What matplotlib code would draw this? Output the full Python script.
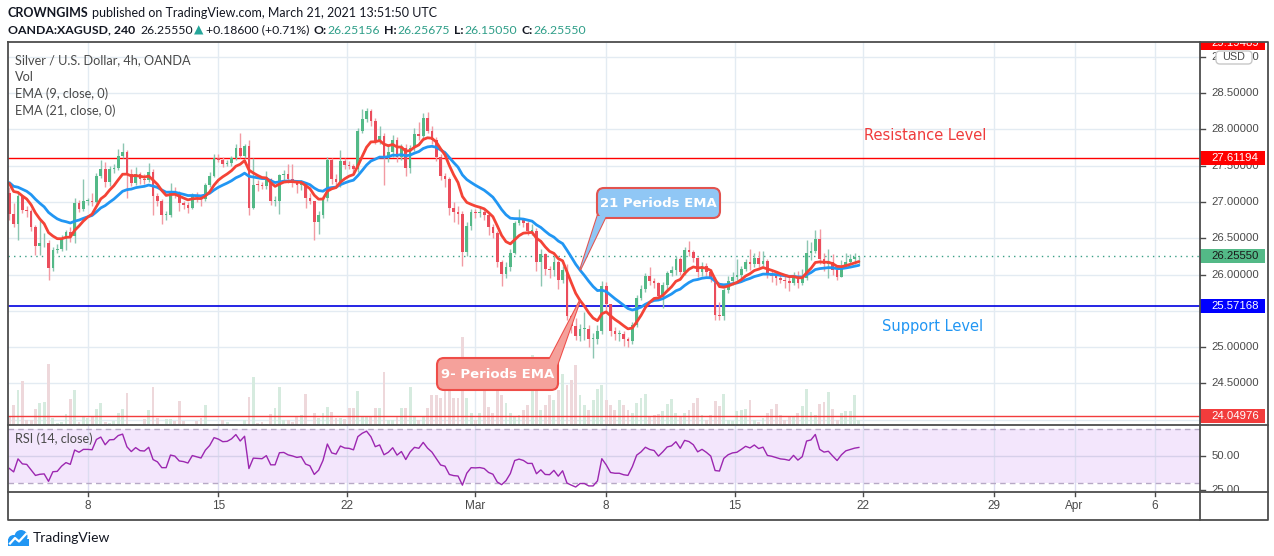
import numpy as np
import pandas as pd
import matplotlib
matplotlib.use("Agg")
import matplotlib.pyplot as plt
import matplotlib.transforms as mtransforms
from matplotlib.patches import FancyBboxPatch, Polygon, Rectangle, Circle

# ---- data (XAGUSD 4h) ----
OPEN0 = 27.12
close = [
    26.84, 26.70, 27.08, 26.89, 26.87, 26.65, 26.40, 26.43, 26.44, 26.09,
    26.34, 26.35, 26.49, 26.59, 26.53, 26.98, 26.91, 27.01, 27.01, 27.00,
    27.36, 27.46, 27.27, 27.46, 27.47, 27.63, 27.69, 27.39, 27.26, 27.39,
    27.31, 27.30, 27.41, 27.08, 27.01, 26.82, 26.82, 27.15, 27.12, 26.98,
    26.96, 26.92, 27.10, 27.07, 27.04, 27.23, 27.36, 27.61, 27.58, 27.53,
    27.54, 27.61, 27.74, 27.63, 27.77, 26.92, 27.24, 27.23, 27.22, 27.31,
    27.01, 27.01, 27.37, 27.38, 27.31, 27.28, 27.24, 27.26, 27.06, 27.01,
    26.73, 26.82, 27.05, 27.58, 27.31, 27.27, 27.57, 27.51, 27.50, 27.46,
    27.98, 28.15, 28.26, 28.12, 27.84, 27.91, 27.60, 27.69, 27.86, 27.62,
    27.75, 27.47, 27.75, 27.94, 27.91, 28.16, 27.98, 27.85, 27.62, 27.36,
    27.31, 26.92, 26.86, 26.84, 26.31, 26.67, 26.86, 26.85, 26.86, 26.82,
    26.65, 26.57, 26.17, 26.01, 26.11, 26.30, 26.71, 26.76, 26.71, 26.60,
    26.60, 26.18, 26.29, 26.08, 26.07, 26.18, 25.93, 26.07, 25.43, 25.29,
    25.16, 25.25, 25.25, 25.11, 25.11, 25.22, 25.84, 25.59, 25.22, 25.18,
    25.18, 25.11, 25.08, 25.31, 25.68, 25.80, 25.98, 25.91, 25.88, 25.71,
    25.85, 26.02, 26.06, 26.21, 26.04, 26.34, 26.31, 26.23, 26.04, 26.12,
    26.04, 25.94, 25.45, 25.43, 25.79, 25.91, 25.97, 25.99, 26.08, 26.18,
    26.14, 26.23, 26.15, 26.19, 26.00, 25.98, 25.95, 25.92, 25.91, 25.89,
    25.98, 25.89, 25.95, 26.30, 26.33, 26.49, 26.21, 26.15, 26.17, 26.07,
    25.97, 26.09, 26.18, 26.21, 26.24, 26.2555,
]
high = [
    27.21, 26.98, 27.12, 27.10, 26.95, 26.90, 26.68, 26.76, 26.57, 26.47,
    26.38, 26.42, 26.55, 26.62, 26.66, 27.05, 27.03, 27.31, 27.06, 27.12,
    27.40, 27.58, 27.55, 27.50, 27.52, 27.73, 27.81, 27.72, 27.45, 27.48,
    27.42, 27.38, 27.54, 27.45, 27.12, 27.04, 26.88, 27.26, 27.20, 27.15,
    27.02, 27.00, 27.13, 27.14, 27.10, 27.26, 27.42, 27.66, 27.66, 27.62,
    27.58, 27.64, 27.80, 27.95, 27.80, 27.85, 27.60, 27.30, 27.28, 27.43,
    27.33, 27.08, 27.38, 27.44, 27.53, 27.52, 27.30, 27.30, 27.28, 27.12,
    27.02, 26.88, 27.08, 27.62, 27.60, 27.38, 27.72, 27.60, 27.56, 27.52,
    28.02, 28.28, 28.30, 28.28, 28.16, 28.05, 27.95, 27.80, 27.92, 27.90,
    27.80, 27.80, 27.78, 28.02, 28.10, 28.22, 28.24, 28.05, 27.90, 27.66,
    27.40, 27.35, 27.00, 26.95, 26.88, 26.72, 26.90, 26.90, 26.95, 26.92,
    26.85, 26.70, 26.60, 26.20, 26.18, 26.35, 26.74, 26.90, 26.78, 26.74,
    26.70, 26.64, 26.35, 26.30, 26.12, 26.25, 26.20, 26.12, 26.15, 25.45,
    25.40, 25.32, 25.48, 25.30, 25.20, 25.30, 25.91, 25.90, 25.60, 25.28,
    25.24, 25.22, 25.14, 25.35, 25.72, 25.85, 26.02, 26.11, 25.95, 25.90,
    25.90, 26.05, 26.12, 26.25, 26.24, 26.38, 26.46, 26.34, 26.24, 26.18,
    26.16, 26.08, 25.96, 25.62, 25.82, 25.98, 26.04, 26.22, 26.12, 26.22,
    26.35, 26.30, 26.32, 26.33, 26.22, 26.05, 26.05, 26.00, 25.98, 26.00,
    26.03, 26.05, 26.08, 26.48, 26.45, 26.62, 26.63, 26.30, 26.35, 26.28,
    26.12, 26.20, 26.30, 26.28, 26.30, 26.26,
]
low = [
    26.75, 26.66, 26.48, 26.85, 26.80, 26.60, 26.27, 26.27, 26.38, 25.92,
    26.05, 26.30, 26.33, 26.34, 26.45, 26.43, 26.86, 26.88, 26.96, 26.95,
    26.98, 27.33, 27.20, 27.22, 27.40, 27.44, 27.60, 27.06, 27.22, 27.24,
    27.25, 27.25, 27.27, 26.82, 26.95, 26.69, 26.75, 26.80, 27.06, 26.88,
    26.90, 26.85, 26.90, 27.00, 26.95, 27.02, 27.20, 27.34, 27.55, 27.48,
    27.50, 27.50, 27.58, 27.60, 27.60, 26.82, 26.90, 27.15, 27.18, 27.18,
    26.96, 26.95, 26.84, 27.30, 27.26, 27.20, 27.12, 27.16, 26.92, 26.97,
    26.47, 26.56, 26.78, 27.02, 27.25, 27.20, 27.20, 27.46, 27.45, 27.40,
    27.42, 27.95, 28.10, 28.05, 27.80, 27.80, 27.24, 27.55, 27.62, 27.55,
    27.58, 27.36, 27.40, 27.70, 27.85, 27.86, 27.95, 27.80, 27.56, 27.30,
    27.20, 26.82, 26.72, 26.70, 26.12, 26.26, 26.62, 26.78, 26.80, 26.75,
    26.55, 26.50, 26.10, 25.84, 25.95, 26.05, 26.28, 26.68, 26.65, 26.55,
    26.55, 26.05, 25.84, 26.00, 25.95, 25.98, 25.80, 25.88, 25.38, 25.20,
    25.10, 25.08, 25.10, 25.00, 24.85, 25.05, 25.18, 25.50, 25.15, 25.10,
    25.08, 25.02, 25.00, 25.05, 25.28, 25.65, 25.76, 25.85, 25.82, 25.66,
    25.54, 25.80, 25.98, 26.00, 26.00, 26.00, 26.25, 26.18, 25.96, 25.98,
    25.98, 25.90, 25.38, 25.38, 25.38, 25.75, 25.85, 25.92, 25.95, 26.05,
    26.06, 26.10, 26.10, 26.12, 25.95, 25.90, 25.85, 25.88, 25.82, 25.78,
    25.85, 25.82, 25.85, 25.92, 26.20, 26.30, 26.15, 26.05, 25.95, 26.00,
    25.93, 25.98, 26.10, 26.15, 26.15, 26.15,
]
volume = [
    8, 20, 35, 44, 5, 5, 16, 22, 23, 61,
    7, 2, 3, 11, 26, 35, 3, 8, 7, 9,
    16, 22, 3, 2, 4, 12, 16, 32, 1, 1,
    1, 6, 15, 38, 7, 1, 6, 6, 4, 24,
    4, 1, 1, 4, 7, 20, 1, 1, 1, 5,
    3, 1, 1, 1, 5, 28, 48, 2, 3, 1,
    11, 17, 38, 5, 5, 3, 9, 10, 31, 1,
    12, 7, 12, 18, 13, 7, 7, 6, 17, 17,
    34, 8, 8, 8, 17, 17, 53, 5, 5, 8,
    17, 17, 38, 8, 5, 8, 17, 30, 30, 27,
    35, 35, 27, 27, 88, 27, 12, 5, 12, 53,
    18, 12, 40, 30, 22, 12, 8, 10, 15, 20,
    70, 35, 15, 20, 30, 25, 35, 51, 40, 45,
    60, 30, 20, 15, 25, 36, 40, 25, 20, 15,
    25, 20, 15, 12, 22, 27, 31, 9, 10, 11,
    14, 21, 26, 12, 9, 12, 15, 22, 27, 10,
    5, 10, 24, 19, 31, 5, 4, 14, 15, 16,
    25, 5, 3, 7, 12, 16, 21, 10, 5, 9,
    9, 12, 19, 36, 13, 10, 21, 23, 33, 16,
    5, 12, 14, 14, 30, 5,
]
EMA9_SEED, EMA21_SEED = 27.36, 27.31
RSI_GAIN_SEED, RSI_LOSS_SEED = 0.070, 0.080

RESISTANCE = 27.61194
SUPPORT = 25.57168
LOW_LEVEL = 24.04976
TOP_LEVEL = 29.19489
LAST = 26.25550

TICK_POS = [18, 48, 77.5, 107, 137, 166.5, 196, 226, 244.5, 263]
TICK_LABELS = ["8", "15", "22", "Mar", "8", "15", "22", "29", "Apr", "6"]
PRICE_TICKS = [24.0, 24.5, 25.0, 25.5, 26.0, 26.5, 27.0, 27.5, 28.0, 28.5, 29.0]
# labels that sit fully under a price tag in the reference are not printed
HIDDEN_LABELS = [24.0, 25.5]

# ---- derived series ----
c = np.array(close)
o = np.r_[OPEN0, c[:-1]]
hi = np.maximum(np.array(high), np.maximum(o, c))
lo = np.minimum(np.array(low), np.minimum(o, c))
idx = np.arange(len(c))
up = c >= o

ema9 = pd.Series(np.r_[EMA9_SEED, c]).ewm(span=9, adjust=False).mean().to_numpy()[1:]
ema21 = pd.Series(np.r_[EMA21_SEED, c]).ewm(span=21, adjust=False).mean().to_numpy()[1:]
delta = c - o
gain = pd.Series(np.r_[RSI_GAIN_SEED, np.clip(delta, 0, None)]).ewm(alpha=1 / 14, adjust=False).mean().to_numpy()[1:]
loss = pd.Series(np.r_[RSI_LOSS_SEED, np.clip(-delta, 0, None)]).ewm(alpha=1 / 14, adjust=False).mean().to_numpy()[1:]
rsi = 100 - 100 / (1 + gain / loss)

# ---- figure ----
W, H = 1274, 556
fig = plt.figure(figsize=(W / 100, H / 100), dpi=100)
fig.patch.set_facecolor("white")

UI_FONT = ["Lato", "DejaVu Sans"]
AX_FONT = ["Liberation Sans", "DejaVu Sans"]
AX_SIZE = 8.2
GRID = "#e3ebf2"
TXT = "#4a4a4a"
UP, DOWN = "#53b987", "#eb4d5c"
UP_WICK, DOWN_WICK = "#8cc6b2", "#f29aa3"

XLIM = (-0.3, 273.3)
PRICE_LIM = (23.928, 29.204)
RSI_LIM = (23.33, 72.96)


def px_axes(x0, y0, x1, y1, zorder=1):
    a = fig.add_axes([x0 / W, 1 - y1 / H, (x1 - x0) / W, (y1 - y0) / H], zorder=zorder)
    a.set_axis_off()
    return a


# price panel
ax = px_axes(8, 42, 1200, 425, zorder=2)
ax.set_xlim(*XLIM)
ax.set_ylim(*PRICE_LIM)
ax_bg = px_axes(8, 42, 1200, 425, zorder=1)
ax_bg.set_xlim(*XLIM)
ax_bg.set_ylim(0, 383)
price_y = mtransforms.blended_transform_factory(ax_bg.transAxes, ax.transData)
for p in PRICE_TICKS:
    ax_bg.plot([0, 1], [p, p], transform=price_y, color=GRID, lw=1, zorder=0)
for t in TICK_POS:
    ax_bg.axvline(t, color=GRID, lw=1, zorder=0)
ax_bg.bar(idx, volume, width=0.65, color=np.where(up, "#d6ebdf", "#eed8db"), zorder=1)

ax.vlines(idx, lo, hi, colors=np.where(up, UP_WICK, DOWN_WICK), lw=1, zorder=2)
ax.bar(idx, np.maximum(np.abs(c - o), 0.012), bottom=np.minimum(o, c), width=0.62,
       color=np.where(up, UP, DOWN), lw=0, zorder=3)
ax.plot(idx, ema21, color="#2196f3", lw=2, zorder=4, solid_capstyle="round")
ax.plot(idx, ema9, color="#f44336", lw=2, zorder=5, solid_capstyle="round")
ax.axhline(RESISTANCE, color="#ff0000", lw=1, zorder=1)
ax.axhline(SUPPORT, color="#0000e0", lw=1.2, zorder=1)
ax.axhline(LOW_LEVEL, color="#f23c3c", lw=1, zorder=1)
ax.axhline(LAST, color="#3a9f86", lw=1, ls=(0, (1, 3)), zorder=1)
ax.text(210.2, 27.91, "Resistance Level", color="#ef3b3b", fontsize=10.5,
        ha="center", va="center", family="DejaVu Sans")
ax.text(212, 25.29, "Support Level", color="#2196f3", fontsize=10.5,
        ha="center", va="center", family="DejaVu Sans")

legend = ["Silver / U.S. Dollar, 4h, OANDA", "Vol", "EMA (9, close, 0)", "EMA (21, close, 0)"]
for k, s in enumerate(legend):
    fig.text(15 / W, 1 - (60 + 17 * k) / H, s, color=TXT, fontsize=9.2, family=UI_FONT, va="center")

# RSI panel
ax_r = px_axes(8, 425, 1200, 492, zorder=1)
ax_r.set_xlim(*XLIM)
ax_r.set_ylim(*RSI_LIM)
ax_r.axhspan(30, 70, color="#f3e6fc", lw=0, zorder=0)
for t in TICK_POS:
    ax_r.axvline(t, color="#dcdcf0", lw=1, zorder=1)
ax_r.axhline(50, color="#d6d0ea", lw=1, zorder=1)
ax_r.axhline(70, color="#b7a9c6", lw=1, ls=(0, (4, 3)), zorder=1)
ax_r.axhline(30, color="#b7a9c6", lw=1, ls=(0, (4, 3)), zorder=1)
ax_r.plot(idx, rsi, color="#9c27b0", lw=1, zorder=3)
ax_r.text(0.006, 0.8, "RSI (14, close)", transform=ax_r.transAxes, color=TXT,
          fontsize=9.2, family=UI_FONT, va="center")

# price scale
ax_s = px_axes(1200, 42, 1268, 425, zorder=2)
ax_s.set_xlim(0, 1)
ax_s.set_ylim(*PRICE_LIM)
for p in PRICE_TICKS:
    ax_s.plot([0, 0.07], [p, p], color=TXT, lw=1)
    if p not in HIDDEN_LABELS:
        ax_s.text(0.17, p, f"{p:.5f}", color=TXT, fontsize=AX_SIZE, family=AX_FONT,
                  va="center", clip_on=True)
TAG_H = 7 / 72.6


def tag(p, label, fc, tc):
    ax_s.add_patch(Rectangle((0, p - TAG_H), 0.955, 2 * TAG_H, fc=fc, ec="none", zorder=3, clip_on=True))
    ax_s.text(0.17, p, label, color=tc, fontsize=AX_SIZE, family=AX_FONT, va="center",
              zorder=4, clip_on=True)


tag(TOP_LEVEL, f"{TOP_LEVEL:.5f}", "#ff0000", "white")
tag(RESISTANCE, f"{RESISTANCE:.5f}", "#ff0000", "white")
tag(LAST, f"{LAST:.5f}", "#53b987", "#1a1a1a")
tag(SUPPORT, f"{SUPPORT:.5f}", "#0000ff", "white")
tag(LOW_LEVEL, f"{LOW_LEVEL:.5f}", "#f23c3c", "white")

ax_rs = px_axes(1200, 425, 1268, 492, zorder=2)
ax_rs.set_xlim(0, 1)
ax_rs.set_ylim(*RSI_LIM)
for v in [50, 25]:
    ax_rs.plot([0, 0.07], [v, v], color=TXT, lw=1)
    ax_rs.text(0.17, v, f"{v:.2f}", color=TXT, fontsize=AX_SIZE, family=AX_FONT,
               va="center", clip_on=True)

# time axis
ax_t = px_axes(8, 492, 1200, 520, zorder=2)
ax_t.set_xlim(*XLIM)
ax_t.set_ylim(0, 1)
for t, s in zip(TICK_POS, TICK_LABELS):
    ax_t.plot([t, t], [1, 0.86], color=TXT, lw=1)
    ax_t.text(t, 0.5, s, color=TXT, fontsize=8.5, family=AX_FONT, ha="center", va="center")

# overlay in pixel coordinates: frame, callouts, logo
ov = fig.add_axes([0, 0, 1, 1], zorder=5)
ov.set_xlim(0, W)
ov.set_ylim(H, 0)
ov.set_axis_off()
ov.patch.set_alpha(0)
FRAME = "#4d4d4d"
ov.plot([8, 1268, 1268, 8, 8], [42, 42, 520, 520, 42], color=FRAME, lw=1.3)
ov.plot([1200, 1200], [42, 520], color=FRAME, lw=1.3)
ov.plot([8, 1268], [425, 425], color=FRAME, lw=1.3)
ov.plot([8, 1268], [492, 492], color=FRAME, lw=1.3)

ov.add_patch(FancyBboxPatch((1216, 51), 36, 13, boxstyle="round,pad=0,rounding_size=4",
                            fc="white", ec="#c8c8c8", lw=1))
ov.text(1234, 57.5, "USD", color=TXT, fontsize=7.8, family=AX_FONT, ha="center", va="center")


def to_px(i, p):
    d = ax.transData.transform((i, p))
    return d[0], H - d[1]


def callout(box, base, tip, fc, ec, label):
    x0, y0, x1, y1 = box
    tri = [base[0], tip, base[1]]
    ov.add_patch(Polygon(tri, closed=True, fc=fc, ec=ec, lw=1.5, zorder=1))
    ov.add_patch(FancyBboxPatch((x0, y0), x1 - x0, y1 - y0, boxstyle="round,pad=0,rounding_size=7",
                                fc=fc, ec=ec, lw=1.5, zorder=2))
    ov.add_patch(Polygon(tri, closed=True, fc=fc, ec="none", zorder=3))
    ov.text((x0 + x1) / 2, (y0 + y1) / 2 + 0.5, label, color="white", fontsize=9.5,
            fontweight="bold", family="DejaVu Sans", ha="center", va="center", zorder=4)


callout((597, 188, 720, 218), [(597.5, 216), (606, 216)], to_px(131, ema21[131]),
        "#90c7f5", "#e2534f", "21 Periods EMA")
callout((437, 358, 558, 390), [(549, 360), (556.5, 367)], to_px(131, ema9[131]),
        "#f5a19b", "#ee4d48", "9- Periods EMA")

# logo
for (cx, cy, r) in [(13.5, 540.5, 5.5), (21, 536.5, 6.5)]:
    ov.add_patch(Circle((cx, cy), r, fc="#2196f3", ec="none"))
ov.add_patch(Rectangle((8, 539), 21, 7, fc="#2196f3", ec="none"))
ov.plot([10, 15, 19, 26], [543.5, 538, 541.5, 534], color="white", lw=1.6)
fig.text(33 / W, 1 - 538 / H, "TradingView", color="#131722", fontsize=10, family=UI_FONT, va="center")

# header
renderer = fig.canvas.get_renderer()


def runs(x, y, parts, size=8.8):
    for s, color, weight, gap in parts:
        t = fig.text(x / W, 1 - y / H, s, color=color, fontsize=size, fontweight=weight,
                     family=UI_FONT, va="center", ha="left")
        x += t.get_window_extent(renderer).width + gap


DARK = "#131722"
GREEN = "#2e9e88"
runs(8, 13, [("CROWNGIMS", DARK, "bold", 3),
             ("published on TradingView.com, March 21, 2021 13:51:50 UTC", DARK, "normal", 0)],
     size=9.0)
runs(8, 30, [("OANDA:XAGUSD, 240", DARK, "bold", 5),
             ("26.25550", DARK, "normal", 1.5),
             ("\u25b2", "#26a69a", "normal", 2.5),
             ("+0.18600 (+0.71%)", DARK, "normal", 4),
             ("O:", DARK, "bold", 1),
             ("26.25156", GREEN, "normal", 4),
             ("H:", DARK, "bold", 1),
             ("26.25675", GREEN, "normal", 4),
             ("L:", DARK, "bold", 1),
             ("26.15050", GREEN, "normal", 4),
             ("C:", DARK, "bold", 1),
             ("26.25550", GREEN, "normal", 0)])

fig.savefig("out.png", dpi=100, facecolor="white")
